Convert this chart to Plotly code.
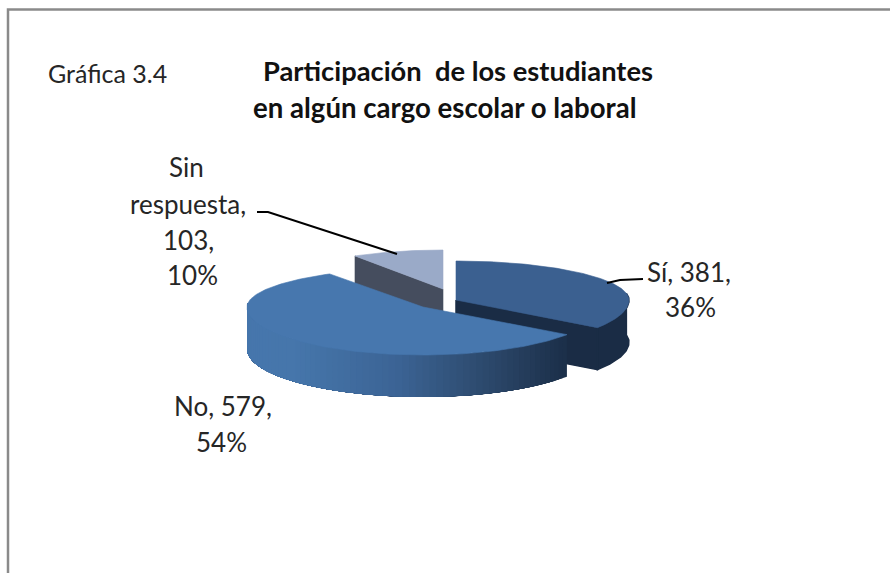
import numpy as np
import plotly.graph_objects as go

categories = ["Sí", "No", "Sin respuesta"]
values = [381, 579, 103]
percent_labels = ["36%", "54%", "10%"]
chart_label = "Gráfica 3.4"
title_lines = ["Participación  de los estudiantes", "en algún cargo escolar o laboral"]

# Geometry of the tilted pie, in page pixels
apex = {"Sí": (456, 300), "No": (423, 307), "Sin respuesta": (443, 289)}
RX = {"Sí": 173, "No": 176, "Sin respuesta": 166}
RY_BACK, RY_FRONT, DEPTH = 39, 48, 42
WARP = 5  # foreshortening of the angles seen in perspective, degrees
top_col = {"Sí": "#3b6090", "No": "#4777ae", "Sin respuesta": "#9aaac8"}
wall_col = {"Sí": "#1a2c45", "Sin respuesta": "#454d5e"}
GRAD = [(247, (71, 119, 173)), (297, (70, 118, 171)), (397, (60, 100, 149)),
        (497, (43, 70, 104)), (564, (28, 48, 74))]

total = sum(values)
angles, a0 = {}, 0.0
for c, v in zip(categories, values):
    angles[c] = (a0, a0 + 360 * v / total)
    a0 += 360 * v / total


def rim(cat, deg):
    cx, cy = apex[cat]
    deg = np.asarray(deg, dtype=float)
    t = np.radians(deg - WARP * np.sin(np.radians(deg)))
    c = np.cos(t)
    ry = np.where(c > 0, RY_BACK, RY_FRONT)
    return cx + RX[cat] * np.sin(t), cy - ry * c


fig = go.Figure()


def poly(xs, ys, col, lw=0.6):
    fig.add_trace(go.Scatter(x=list(xs), y=list(ys), mode="lines", fill="toself", fillcolor=col,
                             line=dict(color=col, width=lw), hoverinfo="skip", showlegend=False))


def wall_poly(cat, d0, d1, col, lw=0.6):
    d = np.linspace(d0, d1, 60)
    x, y = rim(cat, d)
    poly(np.r_[x, x[::-1], x[0]], np.r_[y, y[::-1] + DEPTH, y[0]], col, lw)


def cut(cat, deg, col, lw=0.6):
    cx, cy = apex[cat]
    x, y = rim(cat, np.array([deg]))
    poly([cx, x[0], x[0], cx, cx], [cy, y[0], y[0] + DEPTH, cy + DEPTH, cy], col, lw)


def top(cat):
    a, b = angles[cat]
    d = np.linspace(a, b, 160)
    x, y = rim(cat, d)
    cx, cy = apex[cat]
    poly(np.r_[cx, x, cx], np.r_[cy, y, cy], top_col[cat])


# Back slice
cut("Sin respuesta", angles["Sin respuesta"][0], wall_col["Sin respuesta"])
top("Sin respuesta")
# Sí
wall_poly("Sí", 90 - 5, angles["Sí"][1], wall_col["Sí"], 1.5)
cut("Sí", angles["Sí"][1], wall_col["Sí"], 1.5)
top("Sí")
# No: shaded wall, painted so each band overlaps the rest (no seams)
a, b = angles["No"]
steps = np.linspace(a, 270, 70)
gx = [g[0] for g in GRAD]
for s0, s1 in zip(steps[:-1], steps[1:]):
    xm = float(rim("No", np.array([(s0 + s1) / 2]))[0][0])
    rgb = [int(np.interp(xm, gx, [g[1][i] for g in GRAD])) for i in range(3)]
    wall_poly("No", s0, 270, "rgb(%d,%d,%d)" % tuple(rgb), 0)
top("No")

# Leader lines
for xs, ys in [([607, 620, 643], [283, 280, 279]), ([257, 268, 397], [212, 212, 254])]:
    fig.add_trace(go.Scatter(x=xs, y=ys, mode="lines", line=dict(color="black", width=2),
                             hoverinfo="skip", showlegend=False))

FONT = "Lato, Carlito, Calibri, sans-serif"
ink = "#262626"


def txt(x, y, s, size=26, anchor="center", bold=False):
    fig.add_annotation(x=x, y=y, text=f"<b>{s}</b>" if bold else s, showarrow=False, xanchor=anchor,
                       yanchor="middle", font=dict(family=FONT, size=size, color="#111111" if bold else ink))


txt(46, 73, chart_label, 25, "left")
txt(458, 70, title_lines[0], 27.3, bold=True)
txt(445, 107, title_lines[1], 27.6, bold=True)

lab = {c: (f"{c}, {v},", p) for c, v, p in zip(categories, values, percent_labels)}
txt(689, 272, lab["Sí"][0])
txt(690, 307, lab["Sí"][1])
txt(223, 406, lab["No"][0])
txt(221, 442, lab["No"][1])
w = categories[2].split(" ")
txt(186, 167, w[0])
txt(188, 204, w[1] + ",")
txt(188, 240, f"{values[2]},")
txt(192, 275, percent_labels[2])

fig.update_layout(
    width=890, height=573, margin=dict(l=0, r=0, t=0, b=0),
    paper_bgcolor="white", plot_bgcolor="white", showlegend=False,
    xaxis=dict(range=[0, 890], visible=False, fixedrange=True),
    yaxis=dict(range=[573, 0], visible=False, fixedrange=True),
    shapes=[dict(type="rect", xref="x", yref="y", x0=8, y0=9.5, x1=960, y1=700,
                 line=dict(color="#8a8a8a", width=2.5), layer="below")],
)
fig.write_html("out.html", config={"displayModeBar": False},
               post_script="document.body.style.margin='0';document.body.style.overflow='hidden';")
